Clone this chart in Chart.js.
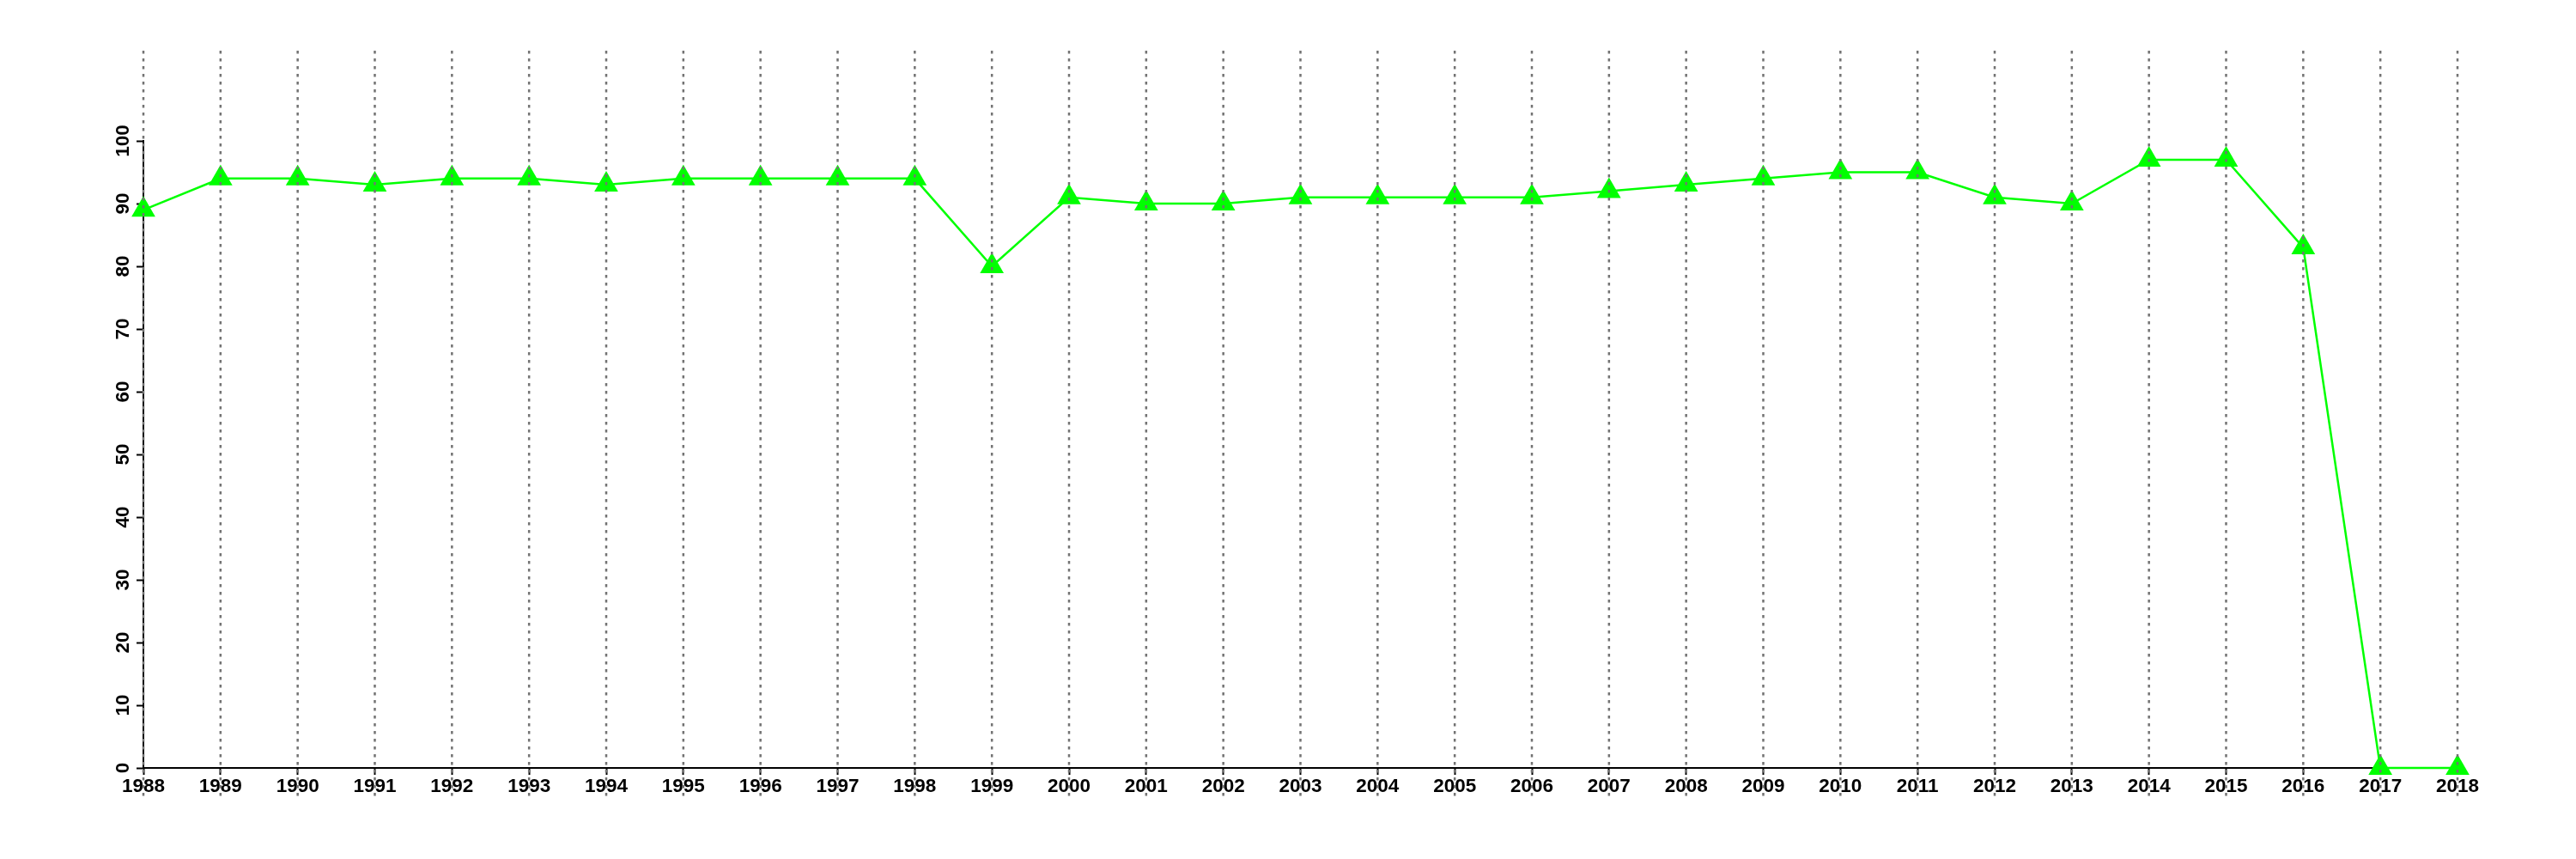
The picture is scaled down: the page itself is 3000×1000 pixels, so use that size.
<!DOCTYPE html>
<html>
<head>
<meta charset="utf-8">
<script src="https://cdn.jsdelivr.net/npm/chart.js@4.4.1/dist/chart.umd.min.js"></script>
<style>
  html, body { margin: 0; padding: 0; background: #fff; }
  #wrap { width: 3000px; height: 1000px; }
</style>
</head>
<body>
<div id="wrap"><canvas id="chart" width="3000" height="1000"></canvas></div>
<script>
// years on the x axis
const years = [
  "1988", "1989", "1990", "1991", "1992", "1993", "1994", "1995", "1996", "1997",
  "1998", "1999", "2000", "2001", "2002", "2003", "2004", "2005", "2006", "2007",
  "2008", "2009", "2010", "2011", "2012", "2013", "2014", "2015", "2016", "2017", "2018"
];

// values
const values = [
  89, 94, 94, 93, 94, 94, 93, 94, 94, 94,
  94, 80, 91, 90, 90, 91, 91, 91, 91, 92,
  93, 94, 95, 95, 91, 90, 97, 97, 83, 0, 0
];

// y axis range / tick step
const yMin = 0;
const yMax = 100;
const yStep = 10;

// dotted vertical guides, drawn over the points like the original
const guidePlugin = {
  id: "guides",
  afterDatasetsDraw(chart) {
    const ctx = chart.ctx;
    const xs = chart.scales.x;
    ctx.save();
    ctx.strokeStyle = "#737373";
    ctx.lineWidth = 2.5;
    ctx.setLineDash([3.5, 5.5]);
    for (let i = 0; i < years.length; i++) {
      let px = xs.getPixelForValue(i);
      ctx.beginPath();
      ctx.moveTo(px, 59);
      ctx.lineTo(px, 928);
      ctx.stroke();
    }
    ctx.restore();
  }
};

const font = { family: "'Liberation Sans', Arial, Helvetica, sans-serif", size: 22.5, weight: "bold" };

new Chart(document.getElementById("chart"), {
  type: "line",
  data: {
    labels: years,
    datasets: [{
      data: values,
      borderColor: "#00ff00",
      backgroundColor: "#00ff00",
      borderWidth: 2.5,
      tension: 0,
      pointStyle: "triangle",
      pointRadius: 16,
      pointBorderWidth: 0,
      pointBackgroundColor: "#00ff00",
      clip: false
    }]
  },
  options: {
    responsive: false,
    animation: false,
    events: [],
    layout: { padding: { top: 164, right: 138, bottom: 0, left: 0 } },
    plugins: { legend: { display: false }, tooltip: { enabled: false } },
    scales: {
      x: {
        z: 1,
        offset: false,
        afterFit: (s) => { s.height = 106; },
        grid: { drawOnChartArea: false, drawTicks: true, tickLength: 8, tickWidth: 2, tickColor: "#000" },
        border: { display: true, color: "#000", width: 2 },
        ticks: { color: "#000", font: font, padding: 0, maxRotation: 0, autoSkip: false }
      },
      y: {
        z: 1,
        min: yMin,
        max: yMax,
        afterFit: (s) => { s.width = 167; },
        grid: { drawOnChartArea: false, drawTicks: true, tickLength: 8, tickWidth: 2, tickColor: "#000" },
        border: { display: true, color: "#000", width: 2 },
        ticks: { color: "#000", font: font, stepSize: yStep, minRotation: 90, maxRotation: 90, crossAlign: "center", padding: -4 }
      }
    }
  },
  plugins: [guidePlugin]
});
</script>
</body>
</html>
